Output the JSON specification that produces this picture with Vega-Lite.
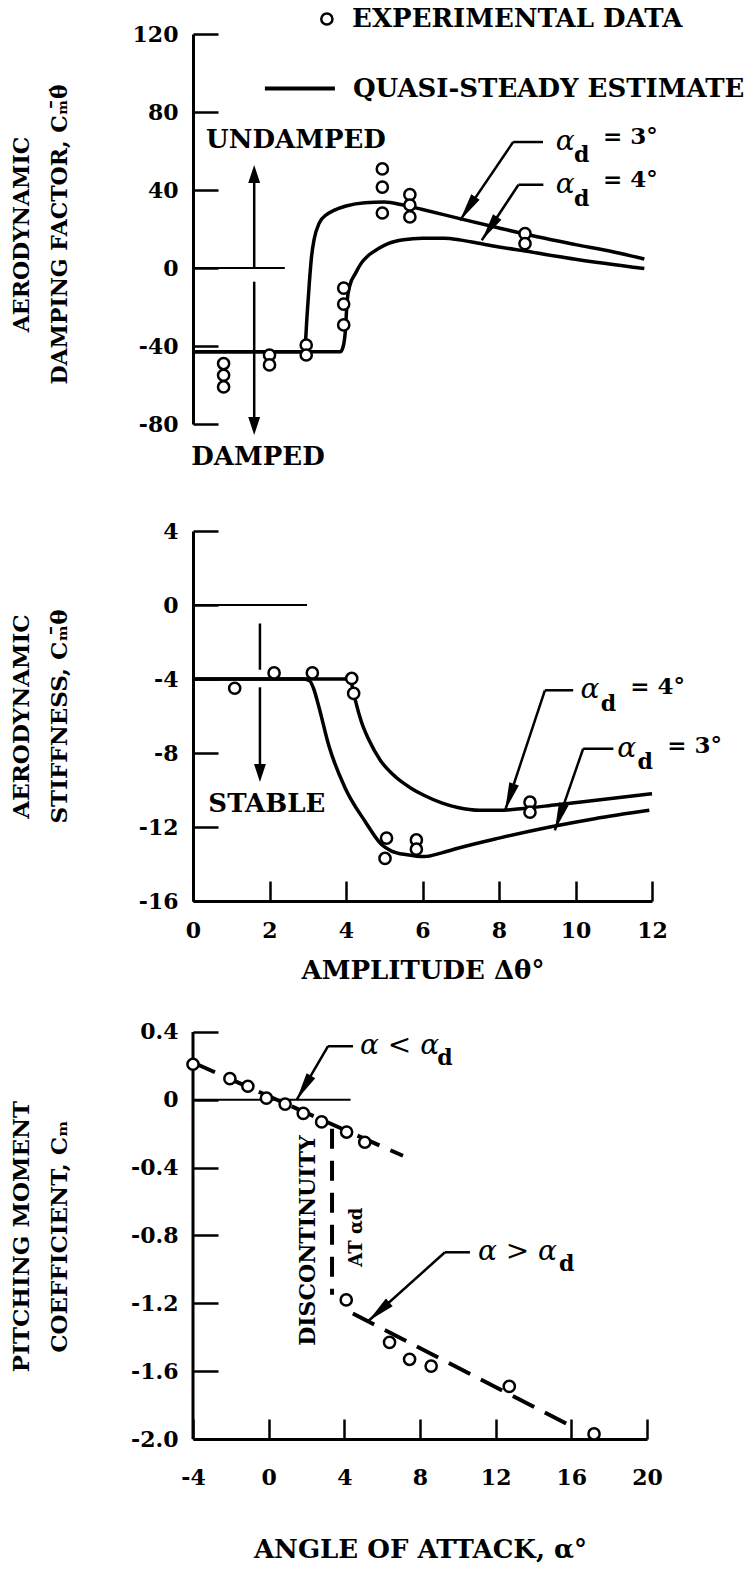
{
  "$schema": "https://vega.github.io/schema/vega-lite/v6.json",
  "padding": {"left": 10, "top": 5, "right": 0, "bottom": 5},
  "bounds": "flush",
  "spacing": 107,
  "config": {
    "view": {"stroke": null},
    "font": "DejaVu Serif",
    "axis": {"domainColor": "black", "domainWidth": 3, "tickColor": "black", "tickWidth": 2.5, "tickSize": -25,
      "labelFont": "DejaVu Serif", "labelFontWeight": "bold", "labelFontSize": 22, "labelColor": "black", "labelPadding": 40,
      "titleFont": "DejaVu Serif", "titleFontWeight": "bold", "titleFontSize": 23, "titleColor": "black", "titleLineHeight": 38,
      "grid": false, "labelOverlap": false, "labelFlush": false, "labelBound": false},
    "axisX": {"tickSize": -20, "labelPadding": 39, "titlePadding": 16, "titleFontSize": 26},
    "axisY": {"titleAngle": 270, "titleBaseline": "bottom", "titleAlign": "center", "titleX": -160}
  },
  "vconcat": [
    {
      "width": 459, "height": 390,
      "encoding": {
        "x": {"field": "x", "type": "quantitative", "scale": {"domain": [0, 12], "nice": false, "zero": false}, "axis": null},
        "y": {"field": "y", "type": "quantitative", "scale": {"domain": [-80, 120], "nice": false, "zero": false},
          "axis": {"values": [120, 80, 40, 0, -40, -80], "labelExpr": "(datum.value < 0 ? '-' : '') + abs(datum.value)",
            "title": ["AERODYNAMIC", "DAMPING FACTOR, Cₘ̄θ̇"], "titleY": 200, "titleFontSize": 22}}
      },
      "layer": [
        {"data": {"values": [{"x": 0, "y": 0, "x2": 2.4, "y2": 0}]},
          "mark": {"type": "rule", "color": "black", "strokeWidth": 2},
          "encoding": {"x2": {"field": "x2"}, "y2": {"field": "y2"}}},
        {"data": {"values": [
            {"x": 1.6, "y": 50, "x2": 1.6, "y2": 0},
            {"x": 1.6, "y": -7, "x2": 1.6, "y2": -82},
            {"x": 9.15, "y": 64.6, "x2": 8.37, "y2": 64.6},
            {"x": 8.37, "y": 64.6, "x2": 6.98, "y2": 24.4},
            {"x": 9.16, "y": 42.7, "x2": 8.51, "y2": 42.7},
            {"x": 8.51, "y": 42.7, "x2": 7.55, "y2": 14.2}]},
          "mark": {"type": "rule", "color": "black", "strokeWidth": 2.5},
          "encoding": {"x2": {"field": "x2"}, "y2": {"field": "y2"}}},
        {"data": {"values": [{"x": 1.88, "y": 92, "x2": 3.71, "y2": 92}]},
          "mark": {"type": "rule", "color": "black", "strokeWidth": 4},
          "encoding": {"x2": {"field": "x2"}, "y2": {"field": "y2"}}},
        {"data": {"values": [
            {"s": "3", "x": 0, "y": -43}, {"s": "3", "x": 2.88, "y": -43}, {"s": "3", "x": 2.93, "y": -40},
            {"s": "3", "x": 2.98, "y": -25}, {"s": "3", "x": 3.04, "y": -8}, {"s": "3", "x": 3.1, "y": 6},
            {"s": "3", "x": 3.17, "y": 15}, {"s": "3", "x": 3.3, "y": 23}, {"s": "3", "x": 3.5, "y": 27.5},
            {"s": "3", "x": 3.7, "y": 29.7}, {"s": "3", "x": 4.0, "y": 31.8}, {"s": "3", "x": 4.5, "y": 33.5},
            {"s": "3", "x": 5.0, "y": 33.8}, {"s": "3", "x": 5.5, "y": 32.3}, {"s": "3", "x": 6.0, "y": 30},
            {"s": "3", "x": 7.0, "y": 25.2}, {"s": "3", "x": 8.0, "y": 20.5}, {"s": "3", "x": 9.0, "y": 16},
            {"s": "3", "x": 10.0, "y": 12}, {"s": "3", "x": 11.0, "y": 8.2}, {"s": "3", "x": 11.8, "y": 4.6},
            {"s": "4", "x": 0, "y": -43}, {"s": "4", "x": 3.85, "y": -43}, {"s": "4", "x": 3.93, "y": -40},
            {"s": "4", "x": 3.98, "y": -33}, {"s": "4", "x": 4.03, "y": -17}, {"s": "4", "x": 4.1, "y": -9},
            {"s": "4", "x": 4.24, "y": -3}, {"s": "4", "x": 4.4, "y": 2.5}, {"s": "4", "x": 4.59, "y": 6.5},
            {"s": "4", "x": 4.85, "y": 10}, {"s": "4", "x": 5.1, "y": 12.5}, {"s": "4", "x": 5.5, "y": 14.5},
            {"s": "4", "x": 6.0, "y": 15.3}, {"s": "4", "x": 6.57, "y": 15.3}, {"s": "4", "x": 7.0, "y": 14.3},
            {"s": "4", "x": 7.43, "y": 12.8}, {"s": "4", "x": 8.0, "y": 10.8}, {"s": "4", "x": 8.68, "y": 8.7},
            {"s": "4", "x": 10.0, "y": 4.5}, {"s": "4", "x": 11.8, "y": -0.3}]},
          "mark": {"type": "line", "color": "black", "strokeWidth": 3.5, "interpolate": "monotone"},
          "encoding": {"detail": {"field": "s"}}},
        {"data": {"values": [
            {"x": 0.8, "y": -49}, {"x": 0.8, "y": -55}, {"x": 0.8, "y": -61},
            {"x": 2.0, "y": -44.6}, {"x": 2.0, "y": -49.7},
            {"x": 2.96, "y": -39.5}, {"x": 2.96, "y": -44.6},
            {"x": 3.94, "y": -10.3}, {"x": 3.94, "y": -18.5}, {"x": 3.94, "y": -29.2},
            {"x": 4.95, "y": 50.8}, {"x": 4.95, "y": 41.5}, {"x": 4.95, "y": 28.2},
            {"x": 5.67, "y": 37.6}, {"x": 5.67, "y": 32.3}, {"x": 5.67, "y": 26.2},
            {"x": 8.68, "y": 17.6}, {"x": 8.68, "y": 12.5}]},
          "mark": {"type": "point", "shape": "circle", "filled": true, "fill": "white", "stroke": "black", "strokeWidth": 2.5, "size": 125, "opacity": 1}},
        {"data": {"values": [{"x": 3.5, "y": 127.7}]},
          "mark": {"type": "point", "shape": "circle", "filled": true, "fill": "white", "stroke": "black", "strokeWidth": 2.5, "size": 125, "opacity": 1}},
        {"data": {"values": [{"x": 1.6, "y": 52.8}]},
          "mark": {"type": "point", "shape": "M0,0L0.33,1L-0.33,1Z", "filled": true, "color": "black", "size": 1296, "opacity": 1, "angle": 0}},
        {"data": {"values": [{"x": 1.6, "y": -85.6}]},
          "mark": {"type": "point", "shape": "M0,0L0.33,1L-0.33,1Z", "filled": true, "color": "black", "size": 1296, "opacity": 1, "angle": 180}},
        {"data": {"values": [{"x": 6.98, "y": 24.4}, {"x": 7.55, "y": 14.2}]},
          "mark": {"type": "point", "shape": "M0,0L0.18,1L-0.18,1Z", "filled": true, "color": "black", "size": 3136, "opacity": 1, "angle": 213.5}},
        {"data": {"values": [{"x": 2.69, "y": 65.6, "t": "UNDAMPED"}, {"x": 1.7, "y": -96.9, "t": "DAMPED"}]},
          "mark": {"type": "text", "font": "DejaVu Serif", "fontWeight": "bold", "fontSize": 26, "align": "center", "baseline": "middle", "color": "black"},
          "encoding": {"text": {"field": "t"}}},
        {"data": {"values": [{"x": 4.16, "y": 127.7, "t": "EXPERIMENTAL DATA"}, {"x": 4.18, "y": 92, "t": "QUASI-STEADY ESTIMATE"}]},
          "mark": {"type": "text", "font": "DejaVu Serif", "fontWeight": "bold", "fontSize": 26, "align": "left", "baseline": "middle", "color": "black"},
          "encoding": {"text": {"field": "t"}}},
        {"data": {"values": [{"x": 9.73, "y": 64.6, "t": "α"}, {"x": 9.73, "y": 42.5, "t": "α"}]},
          "mark": {"type": "text", "font": "DejaVu Serif", "fontStyle": "italic", "fontSize": 28, "align": "center", "baseline": "middle", "color": "black"},
          "encoding": {"text": {"field": "t"}}},
        {"data": {"values": [{"x": 10.16, "y": 57.8, "t": "d"}, {"x": 10.16, "y": 35.5, "t": "d"}]},
          "mark": {"type": "text", "font": "DejaVu Serif", "fontWeight": "bold", "fontSize": 22, "align": "center", "baseline": "middle", "color": "black"},
          "encoding": {"text": {"field": "t"}}},
        {"data": {"values": [{"x": 10.72, "y": 67, "t": "=  3°"}, {"x": 10.72, "y": 45, "t": "=  4°"}]},
          "mark": {"type": "text", "font": "DejaVu Serif", "fontWeight": "bold", "fontSize": 23, "align": "left", "baseline": "middle", "color": "black"},
          "encoding": {"text": {"field": "t"}}}
      ]
    },
    {
      "width": 459, "height": 370,
      "encoding": {
        "x": {"field": "x", "type": "quantitative", "scale": {"domain": [0, 12], "nice": false, "zero": false},
          "axis": {"values": [0, 2, 4, 6, 8, 10, 12], "title": "AMPLITUDE  Δθ°"}},
        "y": {"field": "y", "type": "quantitative", "scale": {"domain": [-16, 4], "nice": false, "zero": false},
          "axis": {"values": [4, 0, -4, -8, -12, -16], "labelExpr": "(datum.value < 0 ? '-' : '') + abs(datum.value)",
            "title": ["AERODYNAMIC", "STIFFNESS, Cₘ̄θ"], "titleY": 185}}
      },
      "layer": [
        {"data": {"values": [{"x": 0, "y": 0, "x2": 2.98, "y2": 0}]},
          "mark": {"type": "rule", "color": "black", "strokeWidth": 2},
          "encoding": {"x2": {"field": "x2"}, "y2": {"field": "y2"}}},
        {"data": {"values": [
            {"x": 1.75, "y": -1.0, "x2": 1.75, "y2": -3.5},
            {"x": 1.75, "y": -4.45, "x2": 1.75, "y2": -9.0},
            {"x": 9.94, "y": -4.61, "x2": 9.2, "y2": -4.61},
            {"x": 9.2, "y": -4.61, "x2": 8.16, "y2": -11.1},
            {"x": 10.99, "y": -7.77, "x2": 10.2, "y2": -7.77},
            {"x": 10.2, "y": -7.77, "x2": 9.46, "y2": -12.18}]},
          "mark": {"type": "rule", "color": "black", "strokeWidth": 2.5},
          "encoding": {"x2": {"field": "x2"}, "y2": {"field": "y2"}}},
        {"data": {"values": [
            {"s": "3", "x": 0, "y": -4}, {"s": "3", "x": 2.9, "y": -4}, {"s": "3", "x": 3.05, "y": -4.1},
            {"s": "3", "x": 3.15, "y": -4.5}, {"s": "3", "x": 3.29, "y": -5.5}, {"s": "3", "x": 3.55, "y": -7.6},
            {"s": "3", "x": 3.98, "y": -9.9}, {"s": "3", "x": 4.5, "y": -11.7}, {"s": "3", "x": 4.93, "y": -12.95},
            {"s": "3", "x": 5.19, "y": -13.3}, {"s": "3", "x": 5.6, "y": -13.5}, {"s": "3", "x": 6.05, "y": -13.6},
            {"s": "3", "x": 6.5, "y": -13.4}, {"s": "3", "x": 6.92, "y": -13.15}, {"s": "3", "x": 8.0, "y": -12.6},
            {"s": "3", "x": 9.33, "y": -12.0}, {"s": "3", "x": 10.5, "y": -11.55}, {"s": "3", "x": 11.93, "y": -11.1},
            {"s": "4", "x": 0, "y": -4}, {"s": "4", "x": 4.05, "y": -4}, {"s": "4", "x": 4.15, "y": -4.3},
            {"s": "4", "x": 4.25, "y": -5.2}, {"s": "4", "x": 4.4, "y": -6.3}, {"s": "4", "x": 4.6, "y": -7.3},
            {"s": "4", "x": 4.9, "y": -8.4}, {"s": "4", "x": 5.3, "y": -9.3}, {"s": "4", "x": 5.7, "y": -9.9},
            {"s": "4", "x": 6.05, "y": -10.3}, {"s": "4", "x": 6.5, "y": -10.7}, {"s": "4", "x": 6.92, "y": -10.95},
            {"s": "4", "x": 7.5, "y": -11.1}, {"s": "4", "x": 8.0, "y": -11.1}, {"s": "4", "x": 8.64, "y": -11.0},
            {"s": "4", "x": 9.5, "y": -10.8}, {"s": "4", "x": 10.37, "y": -10.6}, {"s": "4", "x": 12.0, "y": -10.2}]},
          "mark": {"type": "line", "color": "black", "strokeWidth": 3.5, "interpolate": "monotone"},
          "encoding": {"detail": {"field": "s"}}},
        {"data": {"values": [
            {"x": 1.09, "y": -4.5}, {"x": 2.12, "y": -3.67}, {"x": 3.12, "y": -3.67},
            {"x": 4.15, "y": -3.97}, {"x": 4.2, "y": -4.78},
            {"x": 5.06, "y": -12.6}, {"x": 5.02, "y": -13.7},
            {"x": 5.84, "y": -12.7}, {"x": 5.84, "y": -13.2},
            {"x": 8.81, "y": -10.66}, {"x": 8.81, "y": -11.2}]},
          "mark": {"type": "point", "shape": "circle", "filled": true, "fill": "white", "stroke": "black", "strokeWidth": 2.5, "size": 125, "opacity": 1}},
        {"data": {"values": [{"x": 1.75, "y": -9.57}]},
          "mark": {"type": "point", "shape": "M0,0L0.33,1L-0.33,1Z", "filled": true, "color": "black", "size": 1296, "opacity": 1, "angle": 180}},
        {"data": {"values": [{"x": 8.16, "y": -11.1}, {"x": 9.46, "y": -12.18}]},
          "mark": {"type": "point", "shape": "M0,0L0.18,1L-0.18,1Z", "filled": true, "color": "black", "size": 3136, "opacity": 1, "angle": 198.7}},
        {"data": {"values": [{"x": 1.93, "y": -10.76, "t": "STABLE"}]},
          "mark": {"type": "text", "font": "DejaVu Serif", "fontWeight": "bold", "fontSize": 26, "align": "center", "baseline": "middle", "color": "black"},
          "encoding": {"text": {"field": "t"}}},
        {"data": {"values": [{"x": 10.38, "y": -4.61, "t": "α"}, {"x": 11.34, "y": -7.77, "t": "α"}]},
          "mark": {"type": "text", "font": "DejaVu Serif", "fontStyle": "italic", "fontSize": 28, "align": "center", "baseline": "middle", "color": "black"},
          "encoding": {"text": {"field": "t"}}},
        {"data": {"values": [{"x": 10.86, "y": -5.33, "t": "d"}, {"x": 11.82, "y": -8.49, "t": "d"}]},
          "mark": {"type": "text", "font": "DejaVu Serif", "fontWeight": "bold", "fontSize": 22, "align": "center", "baseline": "middle", "color": "black"},
          "encoding": {"text": {"field": "t"}}},
        {"data": {"values": [{"x": 11.43, "y": -4.45, "t": "=  4°"}, {"x": 12.4, "y": -7.6, "t": "=  3°"}]},
          "mark": {"type": "text", "font": "DejaVu Serif", "fontWeight": "bold", "fontSize": 23, "align": "left", "baseline": "middle", "color": "black"},
          "encoding": {"text": {"field": "t"}}}
      ]
    },
    {
      "width": 454, "height": 431,
      "encoding": {
        "x": {"field": "x", "type": "quantitative", "scale": {"domain": [-4, 20], "nice": false, "zero": false},
          "axis": {"values": [-4, 0, 4, 8, 12, 16, 20], "labelExpr": "(datum.value < 0 ? '-' : '') + abs(datum.value)",
            "title": "ANGLE OF ATTACK, α°", "labelPadding": 48, "titlePadding": 48}},
        "y": {"field": "y", "type": "quantitative", "scale": {"domain": [-2.0, 0.5415], "nice": false, "zero": false},
          "axis": {"values": [0.4, 0, -0.4, -0.8, -1.2, -1.6, -2.0], "domain": false,
            "labelExpr": "datum.value == 0 ? '0' : (datum.value < 0 ? '-' : '') + format(abs(datum.value), '.1f')",
            "title": ["PITCHING MOMENT", "COEFFICIENT, Cₘ"], "titleY": 228}}
      },
      "layer": [
        {"data": {"values": [{"x": -4, "y": -2.0, "x2": -4, "y2": 0.4}]},
          "mark": {"type": "rule", "color": "black", "strokeWidth": 3},
          "encoding": {"x2": {"field": "x2"}, "y2": {"field": "y2"}}},
        {"data": {"values": [{"x": -4, "y": 0, "x2": 4.33, "y2": 0}]},
          "mark": {"type": "rule", "color": "black", "strokeWidth": 2},
          "encoding": {"x2": {"field": "x2"}, "y2": {"field": "y2"}}},
        {"data": {"values": [
            {"x": 4.46, "y": 0.316, "x2": 3.14, "y2": 0.316},
            {"x": 3.14, "y": 0.316, "x2": 1.48, "y2": 0.0},
            {"x": 10.64, "y": -0.899, "x2": 9.32, "y2": -0.899},
            {"x": 9.32, "y": -0.899, "x2": 5.27, "y2": -1.304}]},
          "mark": {"type": "rule", "color": "black", "strokeWidth": 2.5},
          "encoding": {"x2": {"field": "x2"}, "y2": {"field": "y2"}}},
        {"data": {"values": [{"x": 3.35, "y": -0.17, "x2": 3.35, "y2": -1.15}]},
          "mark": {"type": "rule", "color": "black", "strokeWidth": 4, "strokeDash": [20, 12]},
          "encoding": {"x2": {"field": "x2"}, "y2": {"field": "y2"}}},
        {"data": {"values": [
            {"s": "a", "x": -4, "y": 0.22}, {"s": "a", "x": 7.1, "y": -0.33},
            {"s": "b", "x": 4.45, "y": -1.26}, {"s": "b", "x": 16.1, "y": -1.93}]},
          "mark": {"type": "line", "color": "black", "strokeWidth": 4, "strokeDash": [24, 12]},
          "encoding": {"detail": {"field": "s"}}},
        {"data": {"values": [
            {"x": -4, "y": 0.21}, {"x": -2.05, "y": 0.125}, {"x": -1.1, "y": 0.08}, {"x": -0.12, "y": 0.01},
            {"x": 0.87, "y": -0.025}, {"x": 1.83, "y": -0.08}, {"x": 2.8, "y": -0.13}, {"x": 4.12, "y": -0.19},
            {"x": 5.08, "y": -0.25},
            {"x": 4.1, "y": -1.18}, {"x": 6.39, "y": -1.43}, {"x": 7.45, "y": -1.53}, {"x": 8.59, "y": -1.57},
            {"x": 12.72, "y": -1.69}, {"x": 17.2, "y": -1.97}]},
          "mark": {"type": "point", "shape": "circle", "filled": true, "fill": "white", "stroke": "black", "strokeWidth": 2.5, "size": 125, "opacity": 1}},
        {"data": {"values": [{"x": 1.48, "y": 0.0}]},
          "mark": {"type": "point", "shape": "M0,0L0.18,1L-0.18,1Z", "filled": true, "color": "black", "size": 3136, "opacity": 1, "angle": 210.7}},
        {"data": {"values": [{"x": 5.27, "y": -1.304}]},
          "mark": {"type": "point", "shape": "M0,0L0.18,1L-0.18,1Z", "filled": true, "color": "black", "size": 3136, "opacity": 1, "angle": 228.4}},
        {"data": {"values": [{"x": 2.08, "y": -0.83, "t": "DISCONTINUITY"}]},
          "mark": {"type": "text", "font": "DejaVu Serif", "fontWeight": "bold", "fontSize": 22, "align": "center", "baseline": "middle", "angle": 270, "color": "black"},
          "encoding": {"text": {"field": "t"}}},
        {"data": {"values": [{"x": 4.67, "y": -0.81, "t": "AT αd"}]},
          "mark": {"type": "text", "font": "DejaVu Serif", "fontWeight": "bold", "fontSize": 18, "align": "center", "baseline": "middle", "angle": 270, "color": "black"},
          "encoding": {"text": {"field": "t"}}},
        {"data": {"values": [{"x": 4.83, "y": 0.316, "t": "α < α"}, {"x": 11.06, "y": -0.899, "t": "α > α"}]},
          "mark": {"type": "text", "font": "DejaVu Serif", "fontStyle": "italic", "fontSize": 28, "align": "left", "baseline": "middle", "color": "black"},
          "encoding": {"text": {"field": "t"}}},
        {"data": {"values": [{"x": 9.32, "y": 0.249, "t": "d"}, {"x": 15.75, "y": -0.966, "t": "d"}]},
          "mark": {"type": "text", "font": "DejaVu Serif", "fontWeight": "bold", "fontSize": 22, "align": "center", "baseline": "middle", "color": "black"},
          "encoding": {"text": {"field": "t"}}}
      ]
    }
  ]
}
